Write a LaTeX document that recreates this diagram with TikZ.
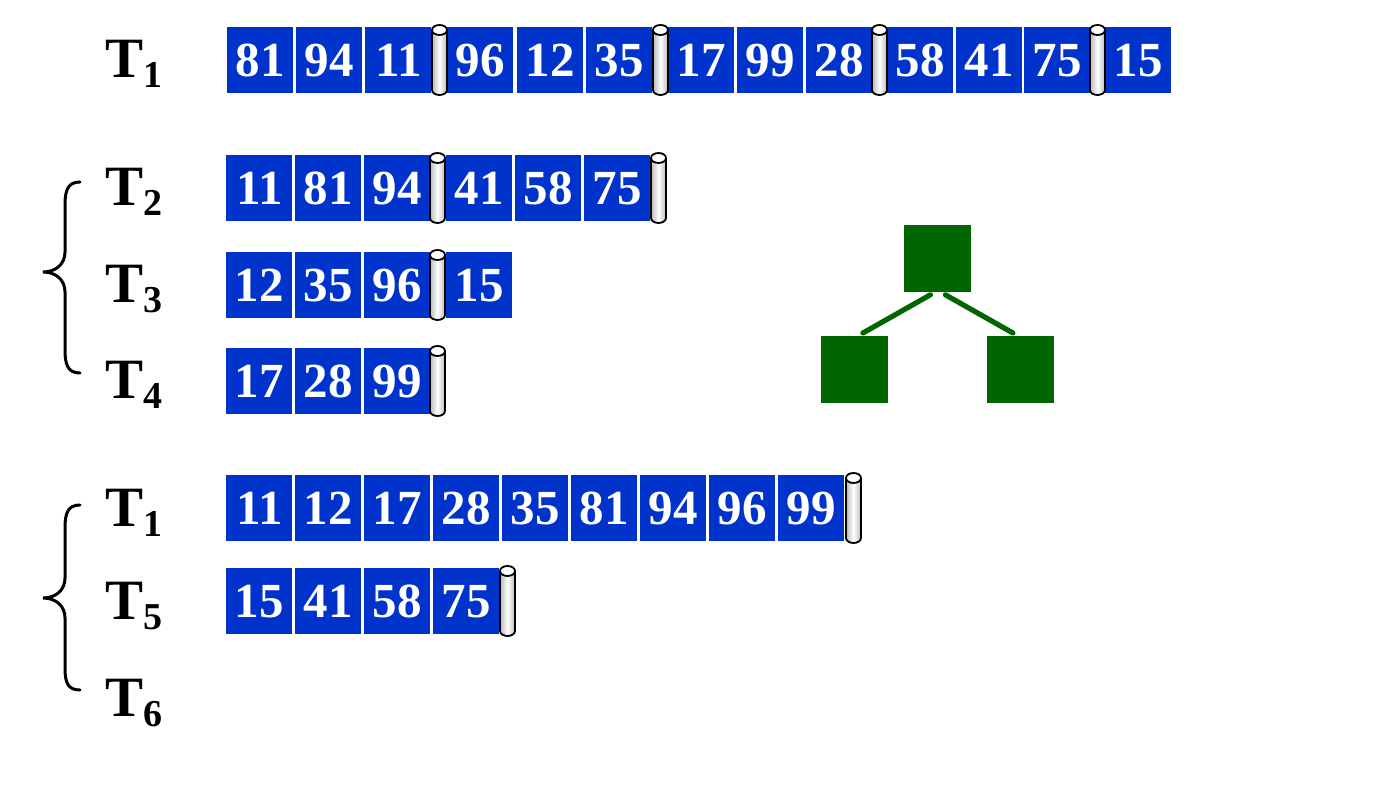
\documentclass[tikz,border=0pt]{standalone}
\usepackage{fontspec}
\setmainfont{Liberation Serif}
\definecolor{boxblue}{RGB}{0,51,204}
\definecolor{treegreen}{RGB}{0,102,0}
\newcommand\numfont{\bfseries\fontsize{24.5}{25}\selectfont}
\newcommand\labT[1]{\bfseries\fontsize{28.5}{30}\selectfont T\raisebox{-5pt}{\fontsize{19}{19}\selectfont #1}}
\newcommand\mycyl[3]{%
  \coordinate (#1) at (#2+7.5,#3+35);
  \path[left color=gray!55,right color=gray!55,middle color=white]
    (#2,#3+5) -- (#2,#3+65) arc[start angle=180,end angle=0,x radius=7.5,y radius=5]
    -- (#2+15,#3+5) arc[start angle=0,end angle=-180,x radius=7.5,y radius=5] -- cycle;
  \draw[cylline] (#2,#3+5) -- (#2,#3+65) arc[start angle=180,end angle=0,x radius=7.5,y radius=5]
    -- (#2+15,#3+5);
  \draw[cylline,fill=white] (#2+7.5,#3+5) ellipse[x radius=7.5,y radius=5];
}
\begin{document}
\begin{tikzpicture}[x=0.5pt,y=-0.5pt,
  cell/.style={fill=boxblue,minimum width=33pt,minimum height=33pt,inner sep=0pt,
    text=white,font=\numfont,anchor=north west},
  cylline/.style={draw=black,line width=0.9pt},
  lbl/.style={anchor=base west,inner sep=0pt},
  brace/.style={draw=black,line width=1.5pt,line cap=round},
  sq/.style={fill=treegreen,minimum width=33.5pt,minimum height=33.5pt,inner sep=0pt,anchor=north west},
  edge/.style={draw=treegreen,line width=2.6pt,line cap=round}]
\useasboundingbox (0,0) rectangle (1382,790);

% labels
\node[lbl] (L1) at (105,78) {\labT{1}};
\node[lbl] (L2) at (105,206) {\labT{2}};
\node[lbl] (L3) at (105,303) {\labT{3}};
\node[lbl] (L4) at (105,399) {\labT{4}};
\node[lbl] (L1b) at (105,527) {\labT{1}};
\node[lbl] (L5) at (105,620) {\labT{5}};
\node[lbl] (L6) at (105,717) {\labT{6}};

% braces
\draw[brace] (80,182) .. controls (68,182) and (65,190) .. (65,205) -- (65,252)
  .. controls (65,264) and (56,272) .. (43,272) .. controls (56,272) and (65,280) .. (65,292)
  -- (65,350) .. controls (65,365) and (68,373) .. (80,373);
\draw[brace] (80,505) .. controls (68,505) and (65,513) .. (65,528) -- (65,578)
  .. controls (65,590) and (56,598) .. (43,598) .. controls (56,598) and (65,606) .. (65,618)
  -- (65,668) .. controls (65,683) and (68,690) .. (80,690);

% row T1 (top)
\foreach \x/\v [count=\i] in {227/81,296/94,365/11,447/96,517/12,586/35,668/17,737/99,806/28,887/58,956/41,1024/75,1105/15}
  \node[cell] (a\i) at (\x,27) {\v};
\mycyl{ac1}{432}{25}\mycyl{ac2}{653}{25}\mycyl{ac3}{872}{25}\mycyl{ac4}{1090}{25}

% row T2
\foreach \x/\v [count=\i] in {226/11,295/81,364/94,446/41,515/58,584/75}
  \node[cell] (b\i) at (\x,155) {\v};
\mycyl{bc1}{430}{153}\mycyl{bc2}{651}{153}

% row T3
\foreach \x/\v [count=\i] in {226/12,295/35,364/96,446/15}
  \node[cell] (c\i) at (\x,252) {\v};
\mycyl{cc1}{430}{250}

% row T4
\foreach \x/\v [count=\i] in {226/17,295/28,364/99}
  \node[cell] (d\i) at (\x,348) {\v};
\mycyl{dc1}{430}{346}

% row T1 (bottom)
\foreach \x/\v [count=\i] in {226/11,295/12,364/17,433/28,502/35,571/81,640/94,709/96,778/99}
  \node[cell] (e\i) at (\x,475) {\v};
\mycyl{ec1}{846}{473}

% row T5
\foreach \x/\v [count=\i] in {226/15,295/41,364/58,433/75}
  \node[cell] (f\i) at (\x,568) {\v};
\mycyl{fc1}{500}{566}

% tree
\node[sq] (top) at (904,225) {};
\node[sq] (left) at (821,336) {};
\node[sq] (right) at (987,336) {};
\draw[edge] ([xshift=-3.75pt,yshift=-1pt]top.south) -- ([xshift=4pt,yshift=1.5pt]left.north);
\draw[edge] ([xshift=3.75pt,yshift=-1pt]top.south) -- ([xshift=-4pt,yshift=1.5pt]right.north);
\end{tikzpicture}
\end{document}
